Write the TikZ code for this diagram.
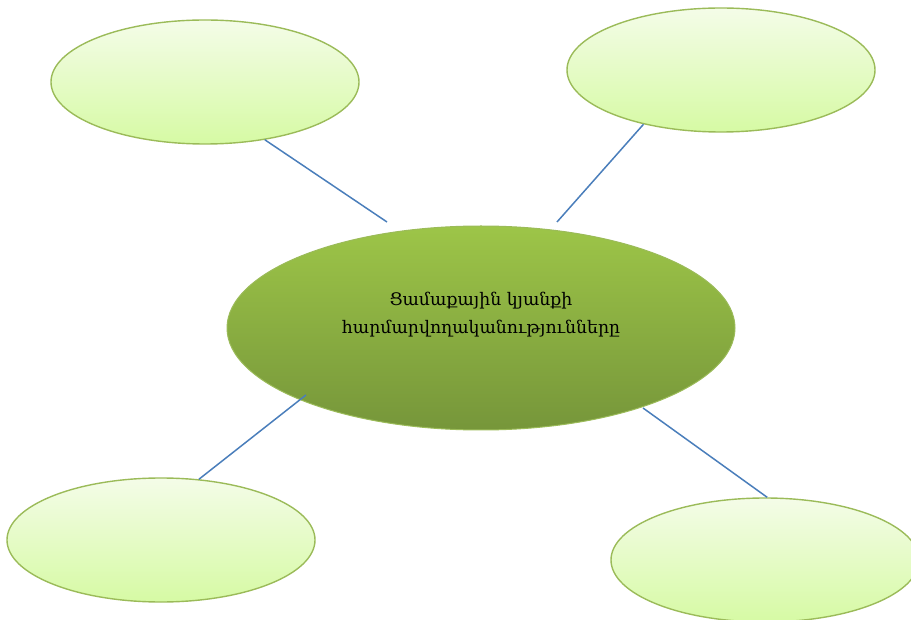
\documentclass[tikz,border=0pt]{standalone}
\usepackage{fontspec}
\newfontfamily\armfont{DejaVu Serif}
\usepackage{xcolor}
\definecolor{HubTop}{HTML}{9DC548}
\definecolor{HubBottom}{HTML}{76963A}
\definecolor{LeafTop}{HTML}{F4FCE8}
\definecolor{LeafBottom}{HTML}{D6FAA4}
\definecolor{RimGreen}{HTML}{9BBB59}
\definecolor{LinkBlue}{HTML}{4A7EBB}
\usepackage{tikz}
\usetikzlibrary{shapes.geometric}
\tikzset{
  vhub/.style={ellipse,draw=RimGreen,line width=1pt,top color=HubTop,bottom color=HubBottom,minimum width=508pt,minimum height=204pt,inner sep=0pt,font=\armfont\fontsize{17.3}{28}\selectfont},
  vleaf/.style={ellipse,draw=RimGreen,line width=1.4pt,top color=LeafTop,bottom color=LeafBottom,minimum width=308pt,minimum height=124pt,inner sep=0pt},
  vlink/.style={draw=LinkBlue,line width=1.5pt}
}

\begin{document}
\begin{tikzpicture}[x=1pt,y=-1pt]
  \useasboundingbox (0,0) rectangle (911,620);
  \node[vhub] (hub) at (481,328) {\raisebox{52pt}{\begin{tabular}{@{}c@{}}Ցամաքային կյանքի\\հարմարվողականությունները\end{tabular}}};
  \node[vleaf] (nw) at (205,82) {};
  \node[vleaf] (ne) at (721,70) {};
  \node[vleaf] (sw) at (161,540) {};
  \node[vleaf] (se) at (765,560) {};
  % ends of the links near the hub
  \coordinate (hubnw) at (387,222);
  \coordinate (hubne) at (557,222);
  \coordinate (hubsw) at (306,395);
  \coordinate (hubse) at (643,408);
  \draw[vlink] (nw.-44) -- (hubnw);
  \draw[vlink] (ne.-145) -- (hubne);
  \draw[vlink] (sw.58) -- (hubsw);
  \draw[vlink] (se.88) -- (hubse);
\end{tikzpicture}
\end{document}
